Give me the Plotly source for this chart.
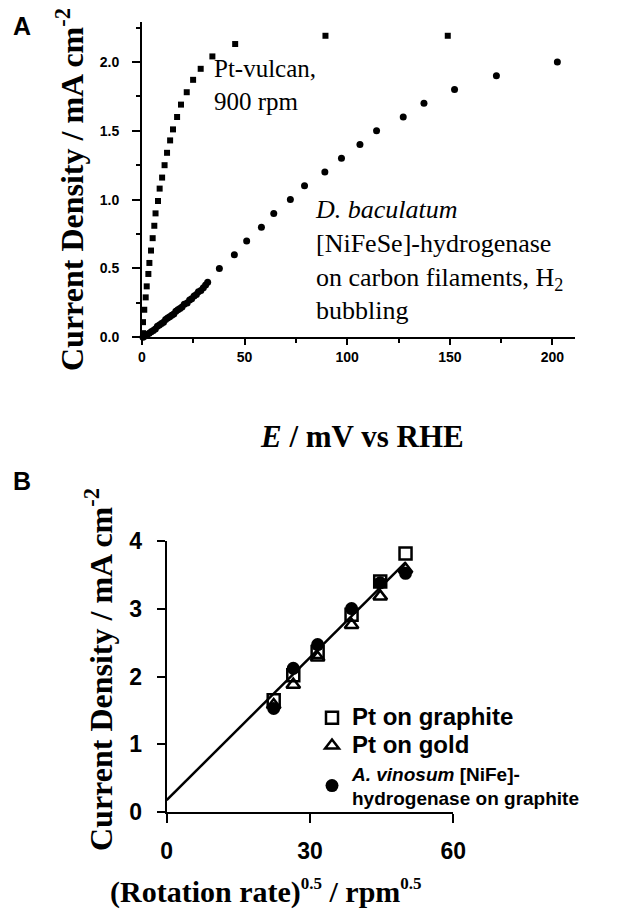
import plotly.graph_objects as go

W, H = 623, 909

# ---------- Panel A data ----------
pt_vulcan_E = [0.5, 0.5, 1.1, 1.8, 2.3, 3.1, 3.6, 4.4, 5.2, 6.0, 6.6, 7.8, 8.6, 9.8, 11.0,
               12.2, 13.7, 15.1, 17.1, 19.0, 21.8, 24.9, 28.6, 34.3, 45.4, 89.4, 149.0]
pt_vulcan_J = [0.03, 0.11, 0.20, 0.29, 0.37, 0.46, 0.54, 0.63, 0.72, 0.81, 0.90, 0.99, 1.08, 1.16, 1.25,
               1.34, 1.43, 1.51, 1.60, 1.69, 1.78, 1.87, 1.95, 2.04, 2.13, 2.19, 2.19]

dbac_E = [0.5, 1.5, 2.5, 3.5, 4.5, 5.5, 6.5, 7.5, 8.5, 9.5, 10.5, 11.5, 12.5, 13.5, 14.5, 15.5,
          16.5, 17.5, 18.5, 19.5, 20.6, 22.0, 23.2, 24.2, 25.4, 26.5, 27.5, 28.7, 29.9, 31.0, 32.0,
          37.7, 45.0, 51.0, 58.2, 64.2, 72.3, 79.2, 89.1, 97.2, 106.2, 114.3, 127.3, 137.4, 152.3,
          172.7, 202.4]
dbac_J = [0.00, 0.01, 0.02, 0.03, 0.04, 0.05, 0.06, 0.08, 0.09, 0.10, 0.11, 0.13, 0.14, 0.15, 0.16, 0.17,
          0.19, 0.20, 0.21, 0.22, 0.24, 0.25, 0.27, 0.28, 0.30, 0.31, 0.33, 0.34, 0.36, 0.38, 0.40,
          0.50, 0.60, 0.70, 0.80, 0.90, 1.00, 1.10, 1.20, 1.30, 1.40, 1.50, 1.60, 1.70, 1.80,
          1.90, 2.00]

# ---------- Panel B data ----------
rot_sqrt = [22.4, 26.5, 31.6, 38.7, 44.7, 50.0]
pt_graphite = [1.65, 2.02, 2.36, 2.91, 3.40, 3.81]
pt_gold = [1.58, 1.88, 2.28, 2.76, 3.18, 3.58]
avin_nife = [1.53, 2.12, 2.47, 3.00, 3.38, 3.52]
fit_x = [0, 50]
fit_y = [0.18, 3.68]

SERIF = "Liberation Serif"
SANS = "Liberation Sans"


def px(x):
    return x / W


def py(y):
    return 1 - y / H


fig = go.Figure()

fig.add_trace(go.Scatter(x=pt_vulcan_E, y=pt_vulcan_J, mode="markers",
                         marker=dict(symbol="square", size=6, color="black"),
                         xaxis="x", yaxis="y", showlegend=False, cliponaxis=False))
fig.add_trace(go.Scatter(x=dbac_E, y=dbac_J, mode="markers",
                         marker=dict(symbol="circle", size=7, color="black"),
                         xaxis="x", yaxis="y", showlegend=False, cliponaxis=False))

fig.add_trace(go.Scatter(x=fit_x, y=fit_y, mode="lines", line=dict(color="black", width=2.5),
                         xaxis="x2", yaxis="y2", showlegend=False, cliponaxis=False))
fig.add_trace(go.Scatter(x=rot_sqrt, y=pt_graphite, mode="markers",
                         name="<span style='font-size:24px'>Pt on graphite</span>",
                         marker=dict(symbol="square-open", size=12, color="black", line=dict(width=2.5)),
                         xaxis="x2", yaxis="y2", cliponaxis=False))
fig.add_trace(go.Scatter(x=rot_sqrt, y=pt_gold, mode="markers",
                         name="<span style='font-size:24px'>Pt on gold</span>",
                         marker=dict(symbol="triangle-up-open", size=12, color="black", line=dict(width=2.5)),
                         xaxis="x2", yaxis="y2", cliponaxis=False))
fig.add_trace(go.Scatter(x=rot_sqrt, y=avin_nife, mode="markers",
                         name="<i>A. vinosum</i> [NiFe]-<br>hydrogenase on graphite",
                         marker=dict(symbol="circle", size=13, color="black"),
                         xaxis="x2", yaxis="y2", cliponaxis=False))

axis_common = dict(showline=True, linecolor="black", linewidth=2, ticks="outside",
                   tickcolor="black", tickwidth=2, showgrid=False, zeroline=False)

fig.update_layout(
    width=W, height=H, autosize=False,
    margin=dict(l=0, r=0, t=0, b=0, autoexpand=False),
    paper_bgcolor="white", plot_bgcolor="white",
    xaxis=dict(domain=[px(142), px(575)], range=[0, 211], dtick=50, tick0=0, ticklen=6,
               minor=dict(ticks="outside", dtick=25, ticklen=4, tickwidth=1.5, tickcolor="black"),
               tickfont=dict(family=SANS, size=14, color="black", weight="bold"),
               anchor="y", **axis_common),
    yaxis=dict(domain=[py(337.3), py(22)], range=[0, 2.29], dtick=0.5, tick0=0, ticklen=8,
               tickformat=".1f",
               minor=dict(ticks="outside", dtick=0.25, ticklen=4, tickwidth=1.5, tickcolor="black"),
               tickfont=dict(family=SANS, size=14, color="black", weight="bold"),
               ticklabelstandoff=10, anchor="x", **axis_common),
    xaxis2=dict(domain=[px(166.7), px(453.3)], range=[0, 60], dtick=30, tick0=0, ticklen=9,
                tickfont=dict(family=SANS, size=23, color="black", weight="bold"),
                ticklabelstandoff=8, anchor="y2", **axis_common),
    yaxis2=dict(domain=[py(812.3), py(540.7)], range=[0, 4], dtick=1, tick0=0, ticklen=8,
                tickfont=dict(family=SANS, size=23, color="black", weight="bold"),
                ticklabelstandoff=10, anchor="x2", **axis_common),
    legend=dict(x=px(312), y=py(699), xanchor="left", yanchor="top",
                font=dict(family=SANS, size=19, color="black", weight="bold"),
                bgcolor="rgba(0,0,0,0)", itemsizing="trace", tracegroupgap=0),
)

ann = []
# panel labels
ann.append(dict(text="A", x=px(22), y=py(26), font=dict(family=SANS, size=25, color="black", weight="bold")))
ann.append(dict(text="B", x=px(22), y=py(481), font=dict(family=SANS, size=25, color="black", weight="bold")))
# axis titles
ann.append(dict(text="<b>Current Density / mA cm<sup>-2</sup></b>", x=px(70), y=py(190), textangle=-90,
                font=dict(family=SERIF, size=32, color="black")))
ann.append(dict(text="<b><i>E</i> / mV vs RHE</b>", x=px(362), y=py(436),
                font=dict(family=SERIF, size=31, color="black")))
ann.append(dict(text="<b>Current Density / mA cm<sup>-2</sup></b>", x=px(99), y=py(670), textangle=-90,
                font=dict(family=SERIF, size=32, color="black")))
ann.append(dict(text="<b>(Rotation rate)<sup><span style='font-size:17px'>0.5</span></sup> / rpm"
                     "<sup><span style='font-size:17px'>0.5</span></sup></b>", x=px(266), y=py(891),
                font=dict(family=SERIF, size=30, color="black")))
# in-plot labels
ann.append(dict(text="Pt-vulcan,<br>900 rpm", x=px(212), y=py(53), xanchor="left", yanchor="top",
                align="left", font=dict(family=SERIF, size=25, color="black")))
ann.append(dict(text="<i>D. baculatum</i><br>[NiFeSe]-hydrogenase<br>on carbon filaments, H<sub>2</sub><br>bubbling",
                x=px(313), y=py(193), xanchor="left", yanchor="top", align="left",
                font=dict(family=SERIF, size=26, color="black")))

for a in ann:
    a.setdefault("xanchor", "center")
    a.setdefault("yanchor", "middle")
    a.update(xref="paper", yref="paper", showarrow=False)
fig.update_layout(annotations=ann)

fig.write_html("out.html")
